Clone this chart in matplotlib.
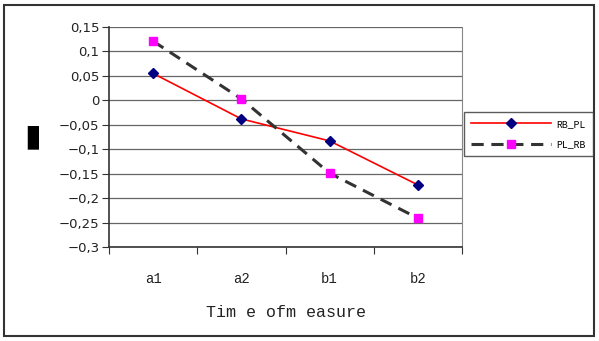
import matplotlib
matplotlib.use("Agg")
import matplotlib.pyplot as plt
from matplotlib.patches import Rectangle
from matplotlib.ticker import FuncFormatter

categories = ["a1", "a2", "b1", "b2"]
rb_pl = [0.055, -0.038, -0.083, -0.173]
pl_rb = [0.121, 0.003, -0.149, -0.241]
yticks = [0.15, 0.1, 0.05, 0, -0.05, -0.1, -0.15, -0.2, -0.25, -0.3]

W, H = 599, 341
fig = plt.figure(figsize=(W/100, H/100), dpi=100)
fig.patch.set_facecolor("white")
fig.patches.append(Rectangle((4/W, 5/H), 590/W, 331/H, transform=fig.transFigure,
                             fill=False, edgecolor="#333333", linewidth=1.5))

ax = fig.add_axes([109/W, 1 - 247/H, (462-109)/W, (247-27)/H])
x = list(range(len(categories)))
ax.plot(x, rb_pl, color="#ff0000", linewidth=1.2, marker="D", markersize=5,
        markerfacecolor="#000080", markeredgecolor="#000080", label="RB_PL", zorder=3)
ax.plot(x, pl_rb, color="#333333", linewidth=2.2, linestyle=(0, (4, 2.5)), marker="s", markersize=6,
        markerfacecolor="#ff00ff", markeredgecolor="#ff00ff", label="PL_RB", zorder=3)

ax.set_xlim(-0.5, 3.5)
ax.set_ylim(-0.3, 0.15)
ax.set_yticks(yticks)
ax.yaxis.set_major_formatter(FuncFormatter(lambda v, p: ("%g" % round(v, 2)).replace(".", ",").replace("-", "\u2212")))
ax.set_xticks([-0.5, 0.5, 1.5, 2.5, 3.5], minor=False)
ax.set_xticklabels([])
ax.set_xticks(x, minor=True)
ax.set_xticklabels(categories, minor=True)
for lab in ax.get_xticklabels(minor=True):
    lab.set_fontfamily("Liberation Mono")
    lab.set_fontsize(10)
    lab.set_color("#222222")
ax.tick_params(axis="x", which="minor", length=0, pad=18)
ax.tick_params(axis="x", which="major", length=5, direction="out", color="#333333")
ax.tick_params(axis="y", length=5, direction="out", color="#333333", pad=2)
for lab in ax.get_yticklabels():
    lab.set_fontfamily("DejaVu Sans")
    lab.set_fontsize(9.5)
    lab.set_color("#222222")
ax.grid(axis="y", color="#666666", linewidth=0.9)
ax.set_axisbelow(True)
ax.spines["top"].set_visible(False)
ax.spines["right"].set_color("#888888")
ax.spines["left"].set_color("#333333")
ax.spines["bottom"].set_color("#333333")
ax.spines["left"].set_linewidth(1.2)
ax.spines["bottom"].set_linewidth(1.2)

ax.set_xlabel("Tim e ofm easure", fontfamily="Liberation Mono", fontsize=12, labelpad=14, color="#222222")
fig.text(33/W, 1 - 137/H, "\u25ae", fontsize=22, ha="center", va="center", fontfamily="DejaVu Sans")

leg = fig.legend(loc="upper left", bbox_to_anchor=(464/W, 1 - 112/H), frameon=True,
                 prop={"family": "Liberation Mono", "size": 7}, handlelength=8.2,
                 borderpad=0.7, labelspacing=1.1, handletextpad=0.6, fancybox=False,
                 edgecolor="#333333", borderaxespad=0)
leg.get_frame().set_linewidth(1.0)

fig.savefig("out.png", dpi=100)
